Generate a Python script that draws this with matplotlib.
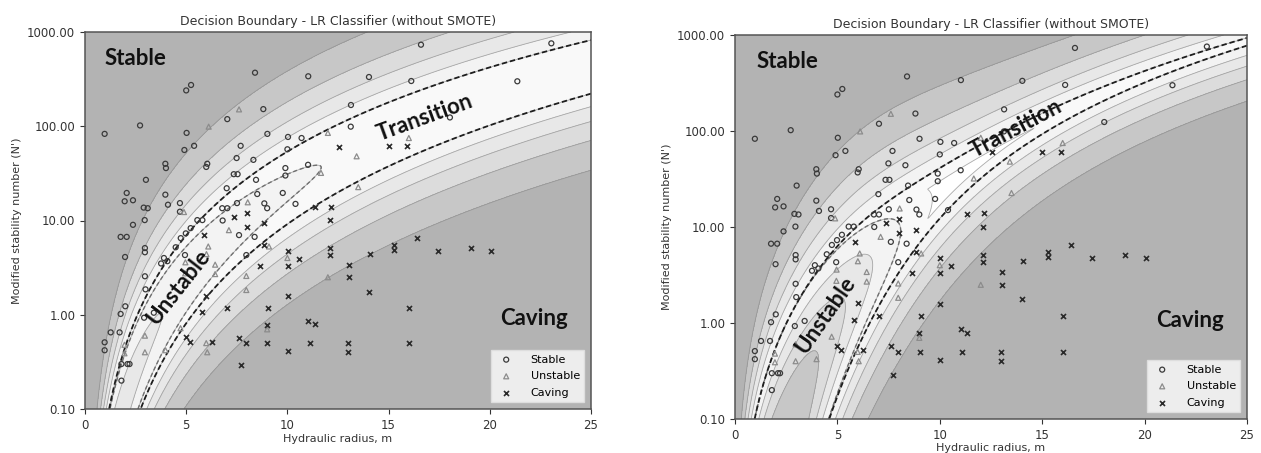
import numpy as np
import matplotlib
matplotlib.use('Agg')
import matplotlib.pyplot as plt
from matplotlib.colors import LinearSegmentedColormap, Normalize
from matplotlib.ticker import FormatStrFormatter, FixedLocator, NullLocator

# ---------------- data ----------------
stable_x = [0.97, 2.72, 5.0, 5.24, 8.4, 11.03, 8.81, 7.03, 5.02, 5.39, 4.91, 9.01, 10.03, 10.7,
            7.69, 10.0, 3.97, 4.0, 6.04, 5.99, 7.49, 8.32, 3.01, 7.35, 7.54, 11.02, 9.9, 9.9,
            2.06, 1.96, 2.37, 3.97, 2.9, 3.1, 4.1, 4.69, 4.69, 9.77, 8.45, 7.0, 7.51, 8.86,
            8.51, 10.4, 16.6, 23.04, 14.03, 16.12, 21.36, 13.14, 13.13, 18.03,
            2.95, 2.37, 1.76, 2.06, 1.98, 2.96, 2.96, 2.96, 2.99, 1.99, 1.76, 1.27, 1.71,
            0.97, 0.97, 1.8, 2.1, 2.2, 1.8, 4.07, 3.9, 3.76, 2.92, 3.4, 4.48, 4.73, 4.98,
            5.22, 5.55, 5.8, 4.94, 6.78, 7.03, 6.8, 7.61, 8.38, 9.0, 7.97]
stable_y = [83, 102, 240, 274, 370, 339, 152, 119, 85, 62, 56, 83, 77, 75,
            62, 57, 40, 36, 40, 37, 46, 44, 27, 31, 31, 39, 36, 30,
            19.6, 16, 16.4, 18.8, 13.7, 13.5, 14.7, 15.3, 12.4, 19.6, 27, 22, 15.3, 15.2,
            19.1, 15, 733, 758, 333, 302, 300, 168, 99, 124,
            10.1, 9.0, 6.7, 6.7, 4.1, 5.1, 4.6, 2.56, 1.86, 1.23, 1.02, 0.65, 0.65,
            0.51, 0.42, 0.30, 0.30, 0.30, 0.20, 3.7, 4.0, 3.5, 0.93, 1.05, 5.2, 6.5, 7.3,
            8.3, 10.1, 10.1, 4.3, 13.5, 13.5, 10.0, 7.0, 6.7, 13.5, 4.3]

unstable_x = [7.61, 6.11, 11.66, 4.89, 8.04, 16.0, 13.42, 13.5, 1.95, 1.95, 2.96, 2.96,
              4.95, 7.11, 6.09, 7.97, 7.97, 9.09, 10.0, 12.0, 9.0, 5.99, 6.04, 4.72,
              3.98, 6.43, 6.43, 6.0, 4.96, 12.0]
unstable_y = [151, 99, 32, 12.3, 15.6, 75, 48, 22.6, 0.48, 0.39, 0.60, 0.40,
              2.75, 7.9, 5.3, 2.58, 1.83, 5.3, 4.0, 2.5, 0.70, 0.50, 0.40, 0.72,
              0.42, 3.4, 2.7, 4.4, 3.6, 85]

caving_x = [12.55, 15.0, 15.93, 12.17, 8.02, 7.36, 8.02, 8.84, 5.88, 5.8, 7.03, 8.65, 8.84,
            9.06, 9.0, 10.03, 10.03, 10.57, 10.03, 11.03, 11.35, 12.09, 12.09, 12.09, 11.35,
            4.97, 5.19, 6.26, 7.63, 7.97, 7.72, 9.01, 10.03, 11.1, 16.42, 15.27, 15.27,
            14.08, 17.42, 19.05, 20.07, 13.06, 13.06, 14.03, 16.0, 13.0, 13.0, 16.0, 6.0]
caving_y = [60, 61, 61, 14, 12, 11, 8.6, 9.3, 7.0, 1.08, 1.19, 3.3, 5.5,
            1.17, 0.78, 4.7, 3.3, 3.9, 1.59, 0.86, 0.79, 5.1, 4.3, 10.1, 13.8,
            0.58, 0.52, 0.52, 0.57, 0.50, 0.29, 0.50, 0.41, 0.50, 6.5, 5.5, 4.9,
            4.4, 4.7, 5.1, 4.8, 3.4, 2.5, 1.76, 1.19, 0.50, 0.40, 0.50, 1.6]

# classifier boundary coefficients in log10(HR): a + b*u + c*u^2
left_stable_coef = [-1.245, 2.95, -0.045]
left_caving_coef = [-2.512, 3.50, 0.045]
left_steep = 2.4
left_merge = [0.0, 0.85]
right_stable_coef = [-0.96, 2.232, 0.412]
right_caving_coef = [-6.125, 8.884, -1.74]
right_steep = 2.2
right_merge = [3.3, 0.85]

title = 'Decision Boundary - LR Classifier (without SMOTE)'
xlabel = 'Hydraulic radius, m'
ylabel = "Modified stability number (N')"
yticks = [0.1, 1, 10, 100, 1000]
xticks = [0, 5, 10, 15, 20, 25]
levels = [0.3, 0.4, 0.5, 0.6, 0.7, 0.8, 0.9, 1.0]


def probs(X, Y, sc, cc, k, merge):
    u = np.log10(X)
    v = np.log10(Y)
    bs = sc[0] + sc[1] * u + sc[2] * u ** 2
    bc = cc[0] + cc[1] * u + cc[2] * u ** 2
    alpha = merge[0] * 0.08 * np.logaddexp(0, (u - merge[1]) / 0.08)
    sS = k * (v - bs) + alpha
    sC = k * (bc - v) + alpha
    sU = np.zeros_like(sS)
    m = np.maximum(np.maximum(sS, sC), sU)
    eS, eU, eC = np.exp(sS - m), np.exp(sU - m), np.exp(sC - m)
    t = eS + eU + eC
    return eS / t, eU / t, eC / t


cmap = LinearSegmentedColormap.from_list('bg', ['#ffffff', '#f3f3f3', '#dcdcdc', '#b3b3b3'])

fig = plt.figure(figsize=(12.61, 4.53), dpi=100)
ax1 = fig.add_axes([85 / 1261, 1 - 409 / 453, 506 / 1261, 377 / 453])
ax2 = fig.add_axes([735 / 1261, 1 - 419 / 453, 512 / 1261, 384 / 453])

gx = np.linspace(0.02, 25, 700)
gy = np.logspace(-1, 3, 600)
X, Y = np.meshgrid(gx, gy)

panels = [
    (ax1, left_stable_coef, left_caving_coef, left_steep, left_merge, 2.0,
     [(0.95, 520, 'Stable', 0, 'left'), (16.8, 122, 'Transition', 20, 'center'),
      (4.6, 1.97, 'Unstable', 52, 'center'), (22.2, 0.92, 'Caving', 0, 'center')]),
    (ax2, right_stable_coef, right_caving_coef, right_steep, right_merge, 0.6,
     [(1.06, 530, 'Stable', 0, 'left'), (13.7, 107, 'Transition', 28, 'center'),
      (4.44, 1.21, 'Unstable', 55, 'center'), (22.2, 1.07, 'Caving', 0, 'center')]),
]

for ax, sc, cc, k, merge, xpad, labels in panels:
    pS, pU, pC = probs(X, Y, sc, cc, k, merge)
    pmax = np.maximum(np.maximum(pS, pU), pC)
    ax.contourf(X, Y, pmax, levels=levels, cmap=cmap, norm=Normalize(0.35, 0.95))
    ax.contour(X, Y, pmax, levels=levels[1:-1], colors='#8a8a8a', linewidths=0.6, alpha=0.7)
    ax.contour(X, Y, pU, levels=[0.5], colors='#707070', linewidths=1.0,
               linestyles=[(0, (3, 2))])
    ax.contour(X, Y, pS, levels=[0.5], colors='#1e1e1e', linewidths=1.3,
               linestyles=[(0, (3, 1.6))])
    ax.contour(X, Y, pC, levels=[0.5], colors='#1e1e1e', linewidths=1.3,
               linestyles=[(0, (3, 1.6))])

    ax.scatter(stable_x, stable_y, marker='o', s=13, facecolors='none',
               edgecolors='#3a3a3a', linewidths=0.9, label='Stable', zorder=3)
    ax.scatter(unstable_x, unstable_y, marker='^', s=13, facecolors='none',
               edgecolors='#8c8c8c', linewidths=0.9, label='Unstable', zorder=3)
    ax.scatter(caving_x, caving_y, marker='x', s=13, color='#2a2a2a',
               linewidths=1.2, label='Caving', zorder=3)

    for lx, ly, txt, rot, ha in labels:
        ax.text(lx, ly, txt, fontsize=16, fontweight='bold', family='Lato',
                rotation=rot, ha=ha, va='center', color='#111111', zorder=4,
                rotation_mode='anchor')

    ax.set_yscale('log')
    ax.set_xlim(0, 25)
    ax.set_ylim(0.1, 1000)
    ax.yaxis.set_major_locator(FixedLocator(yticks))
    ax.yaxis.set_minor_locator(NullLocator())
    ax.yaxis.set_major_formatter(FormatStrFormatter('%.2f'))
    ax.set_xticks(xticks)
    ax.tick_params(labelsize=8.5, colors='#333333', length=3.5)
    for s in ax.spines.values():
        s.set_color('#555555')
        s.set_linewidth(1.1)
    ax.set_title(title, fontsize=9, color='#333333', pad=5)
    ax.set_xlabel(xlabel, fontsize=8, color='#333333', labelpad=xpad)
    ax.set_ylabel(ylabel, fontsize=8, color='#333333')
    leg = ax.legend(loc='lower right', fontsize=8, frameon=True, fancybox=False,
                    borderaxespad=0.6, handletextpad=1.2, labelspacing=0.6)
    leg.get_frame().set_facecolor('#f4f4f4')
    leg.get_frame().set_alpha(0.9)
    leg.get_frame().set_edgecolor('#e0e0e0')

fig.savefig('out.png', dpi=100)
